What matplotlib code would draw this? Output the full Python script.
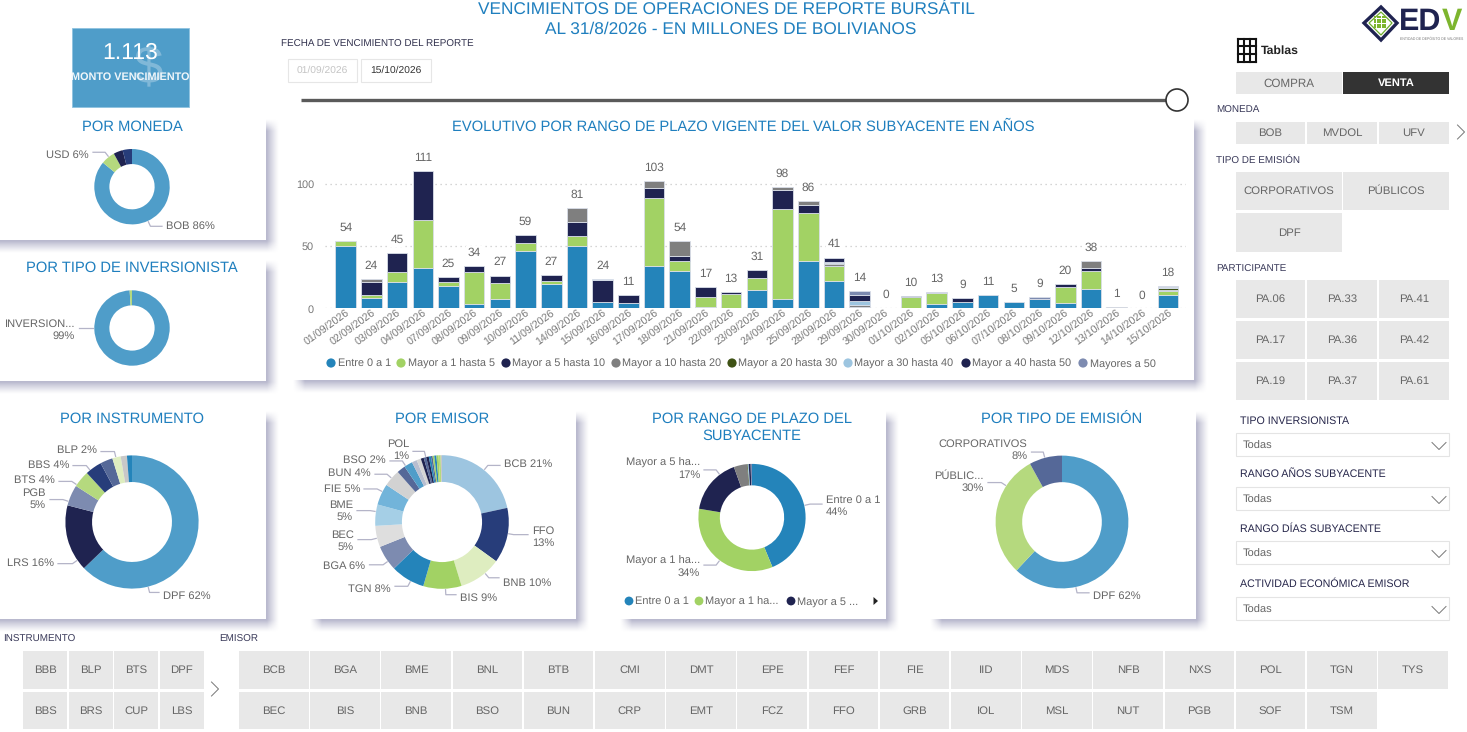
"""Reporte bursatil: dashboard de vencimientos."""

import matplotlib
matplotlib.use("Agg")
import matplotlib.pyplot as plt
import numpy as np
from matplotlib.colors import to_rgb
from matplotlib.patches import Circle, Polygon, Rectangle

plt.rcParams["font.family"] = ["Liberation Sans", "DejaVu Sans"]
plt.rcParams["text.hinting"] = "none"

W, H = 1467, 732

BLUE = "#2484BA"
GREEN = "#A2D264"
NAVY = "#1F2350"
GREY = "#7F7F7F"
OLIVE = "#3F5215"
SKY = "#9DC5E0"
SLATE = "#7D8BB0"
STEEL = "#4F9DC9"
LIME = "#B5D97E"
ROYAL = "#273D7A"
DUSK = "#556898"
TITLE = "#1F7FBE"
TEXT = "#666666"

# evolutivo
fechas = [
    "01/09/2026", "02/09/2026", "03/09/2026", "04/09/2026", "07/09/2026", "08/09/2026",
    "09/09/2026", "10/09/2026", "11/09/2026", "14/09/2026", "15/09/2026", "16/09/2026",
    "17/09/2026", "18/09/2026", "21/09/2026", "22/09/2026", "23/09/2026", "24/09/2026",
    "25/09/2026", "28/09/2026", "29/09/2026", "30/09/2026", "01/10/2026", "02/10/2026",
    "05/10/2026", "06/10/2026", "07/10/2026", "08/10/2026", "09/10/2026", "12/10/2026",
    "13/10/2026", "14/10/2026", "15/10/2026",
]
totales = [54, 24, 45, 111, 25, 34, 27, 59, 27, 81, 24, 11, 103, 54, 17, 13, 31,
           98, 86, 41, 14, 0, 10, 13, 9, 11, 5, 9, 20, 38, 1, 0, 18]
entre_0_1 = [50, 8.5, 21.5, 32.5, 18.5, 3.5, 7.5, 46.5, 20, 50, 5.5, 4.5, 34.5, 30.5, 1.5, 0, 15,
             7.5, 38.5, 22.5, 0, 0, 0, 4, 5.5, 11, 5, 7.5, 4.5, 16, 0, 0, 11]
mayor_1_5 = [4, 2, 8, 38.5, 3, 26, 13, 6.5, 2.5, 8, 0, 0, 54.5, 7.5, 8, 12, 9.5,
             72.5, 38, 11.5, 0, 0.3, 9.5, 8.5, 0, 0, 0, 0, 13, 14, 0, 0, 3]
mayor_5_10 = [0, 11, 15.5, 40, 3.5, 4.5, 6, 6, 4.5, 11.5, 17.5, 6.5, 8, 4, 7.5, 1, 6.5,
              15, 7, 0.5, 1.5, 0, 0.8, 0, 3, 0, 0, 0, 2.5, 3, 0, 0, 0]
mayor_10_20 = [0, 2.5, 0, 0, 0, 0, 0, 0, 0, 11.5, 0, 0, 6, 12, 0, 0, 0,
               3, 3, 1.5, 1, 0, 0, 0, 0, 0, 0, 0, 0, 5.5, 1, 0, 0.8]
mayor_20_30 = [0, 0, 0, 0, 0, 0, 0, 0, 0, 0, 0, 0, 0, 0, 0, 0, 0,
               0, 0, 0.5, 0.3, 0, 0, 0, 0, 0, 0, 0, 0, 0, 0, 0, 2]
mayor_30_40 = [0, 0, 0, 0, 0, 0, 0, 0, 0, 0, 1, 0, 0, 0, 0, 0, 0,
               0, 0, 1, 3.5, 0, 0, 0, 0, 0, 0, 0, 0, 0, 0, 0, 0.3]
mayor_40_50 = [0, 0, 0, 0, 0, 0, 0, 0, 0, 0, 0, 0, 0, 0, 0, 0, 0,
               0, 0, 3.5, 4.5, 0, 0, 0, 0, 0, 0, 0.5, 0, 0, 0, 0, 0]
mayores_50 = [0, 0, 0, 0, 0, 0, 0, 0, 0, 0, 0, 0, 0, 0, 0, 0, 0,
              0, 0, 0, 3, 0, 0, 0.5, 0, 0, 0, 1, 0, 0, 0, 0, 0.7]
rangos = ["Entre 0 a 1", "Mayor a 1 hasta 5", "Mayor a 5 hasta 10", "Mayor a 10 hasta 20",
          "Mayor a 20 hasta 30", "Mayor a 30 hasta 40", "Mayor a 40 hasta 50", "Mayores a 50"]
rango_colors = [BLUE, GREEN, NAVY, GREY, OLIVE, SKY, NAVY, SLATE]

# donas
moneda_vals = [86, 6, 4, 4]
moneda_colors = [STEEL, LIME, NAVY, ROYAL]
inversor_vals = [99, 1]
inversor_colors = [STEEL, LIME]
instrumento_vals = [62, 16, 5, 4, 4, 3, 2, 1.5, 1.2]
instrumento_colors = [STEEL, NAVY, SLATE, LIME, ROYAL, DUSK, "#DEEDC0", "#C8C8C8", BLUE]
emisor_vals = [21, 13, 10, 9, 8, 6, 5, 5, 5, 4, 2, 2, 1.2, 1, 0.7, 0.6, 0.6, 0.5, 0.4, 0.4, 0.5, 0.5, 0.5, 0.3]
emisor_colors = [SKY, ROYAL, "#DEEDC0", GREEN, BLUE, SLATE, "#DEDEDE", "#A5CFE6", "#72B4DA", "#D2D2D2",
                 DUSK, STEEL, "#B8BED0", "#D5D5D5", NAVY, DUSK, NAVY, BLUE, DUSK, GREEN, BLUE, GREEN,
                 LIME, "#C8C8C8"]
plazo_vals = [44, 34, 17, 4, 0.2, 0.3, 0.6, 0.4]
plazo_colors = rango_colors
emision_vals = [62, 30, 8]
emision_colors = [STEEL, LIME, DUSK]

# slicers
instrumentos = [["BBB", "BLP", "BTS", "DPF"], ["BBS", "BRS", "CUP", "LBS"]]
emisores = [["BCB", "BGA", "BME", "BNL", "BTB", "CMI", "DMT", "EPE", "FEF", "FIE", "IID", "MDS",
             "NFB", "NXS", "POL", "TGN", "TYS"],
            ["BEC", "BIS", "BNB", "BSO", "BUN", "CRP", "EMT", "FCZ", "FFO", "GRB", "IOL", "MSL",
             "NUT", "PGB", "SOF", "TSM"]]
participantes = [["PA.06", "PA.33", "PA.41"], ["PA.17", "PA.36", "PA.42"], ["PA.19", "PA.37", "PA.61"]]

fig = plt.figure(figsize=(W / 100, H / 100), dpi=100, facecolor="white")
bg = fig.add_axes([0, 0, 1, 1], zorder=0)
bg.axis("off")


def px_axes(x0, y0, x1, y1):
    ax = fig.add_axes([x0 / W, 1 - y1 / H, (x1 - x0) / W, (y1 - y0) / H], zorder=1)
    ax.patch.set_alpha(0)
    return ax


def text(x, y, s, size=8, color=TEXT, ha="left", **kw):
    bg.text(x, y + 0.8, s, fontsize=size, color=color, ha=ha, va="center", zorder=3, **kw)


def panel(x0, y0, x1, y1, shift=7, ramp=12):
    # sombra suave abajo a la derecha
    sx0, sy0, sx1, sy1 = x0 + shift, y0 + shift, x1 + shift, y1 + shift
    gx = np.arange(x0 - ramp, x1 + shift + ramp) + 0.5
    gy = np.arange(y0 - ramp, y1 + shift + ramp) + 0.5
    ax_fade = np.clip((gx - sx0) / ramp + 0.5, 0, 1) * np.clip((sx1 - gx) / ramp + 0.5, 0, 1)
    ay_fade = np.clip((gy - sy0) / ramp + 0.5, 0, 1) * np.clip((sy1 - gy) / ramp + 0.5, 0, 1)
    img = np.zeros((len(gy), len(gx), 4))
    img[..., :3] = to_rgb("#B9B9CE")
    img[..., 3] = np.outer(ay_fade, ax_fade) ** 1.2
    bg.imshow(img, extent=(gx[0] - 0.5, gx[-1] + 0.5, gy[-1] + 0.5, gy[0] - 0.5), aspect="auto",
              interpolation="nearest", zorder=1)
    bg.add_patch(Rectangle((x0, y0), x1 - x0, y1 - y0, fc="white", ec="none", zorder=2))


def button(x0, y0, x1, y1, label, fc="#E8E8E8", color=TEXT, size=8.2, **kw):
    bg.add_patch(Rectangle((x0, y0), x1 - x0, y1 - y0, fc=fc, ec="none", zorder=2))
    bg.text((x0 + x1) / 2, (y0 + y1) / 2 + 0.5, label, fontsize=size, color=color, ha="center", va="center",
            zorder=3, **kw)


def chevron(x, y, size, color="#777777", down=False):
    if down:
        pts = [(x - size, y - size / 2), (x, y + size / 2), (x + size, y - size / 2)]
    else:
        pts = [(x - size / 2, y - size), (x + size / 2, y), (x - size / 2, y + size)]
    bg.plot(*zip(*pts), color=color, lw=0.7, zorder=3)


def donut(cx, cy, r, vals, colors, labels=()):
    pad = 1.02
    ax = px_axes(cx - r * pad, cy - r * pad, cx + r * pad, cy + r * pad)
    ax.pie(vals, colors=colors, startangle=90, counterclock=False, radius=1,
           wedgeprops={"width": 0.4, "linewidth": 0})
    ax.set_xlim(-pad, pad)
    ax.set_ylim(-pad, pad)
    for angle, label, tx, ty, ha in labels:
        theta = np.deg2rad(angle)
        sx, sy = np.sin(theta), -np.cos(theta)
        knee_x, knee_y = cx + sx * (r + 6), cy + sy * (r + 6)
        end_x = tx + 4 if ha == "right" else tx - 4
        bg.plot([cx + sx * (r + 1), knee_x, end_x], [cy + sy * (r + 1), knee_y, knee_y],
                color="#B4B4C8", lw=0.9, zorder=3)
        bg.text(tx, ty + 1.2, label, fontsize=8, color=TEXT, ha=ha, va="center", zorder=3,
                linespacing=1.25, multialignment="right" if ha == "right" else "left")


# paneles
panel(-20, 118, 266, 240)
panel(-20, 259, 266, 381)
panel(292, 118, 1194, 380)
panel(-20, 410, 266, 619)
panel(309, 410, 576, 619)
panel(619, 410, 886, 619)
panel(929, 410, 1196, 619)
bg.set_xlim(0, W)
bg.set_ylim(H, 0)

for x, y, s in [(132, 126, "POR MONEDA"), (132, 267, "POR TIPO DE INVERSIONISTA"),
                (743, 126, "EVOLUTIVO POR RANGO DE PLAZO VIGENTE DEL VALOR SUBYACENTE EN AÑOS"),
                (132, 418, "POR INSTRUMENTO"), (442, 418, "POR EMISOR"),
                (752, 418, "POR RANGO DE PLAZO DEL"), (752, 435, "SUBYACENTE"),
                (1062, 418, "POR TIPO DE EMISIÓN")]:
    text(x, y, s, 10.6, TITLE, "center")

# encabezado
text(726.5, 9, "VENCIMIENTOS DE OPERACIONES DE REPORTE BURSÁTIL", 12.4, TITLE, "center")
text(731, 28.5, "AL 31/8/2026 - EN MILLONES DE BOLIVIANOS", 12.4, TITLE, "center")

# kpi
bg.add_patch(Rectangle((72, 28), 117, 79, fc=STEEL, ec="#8FC3E0", lw=0.6))
text(148, 68, "$", 38, "#80B8D8", "center")
text(130, 52, "1.113", 16.6, "white", "center")
text(130, 76.5, "MONTO VENCIMIENTO", 7.8, "#F0F6FA", "center", fontweight="bold")

# fecha
text(281, 44, "FECHA DE VENCIMIENTO DEL REPORTE", 7.1, "#33334F")
bg.add_patch(Rectangle((288, 59), 69, 23, fc="white", ec="#E6E6E6", lw=0.8))
bg.add_patch(Rectangle((361, 59), 70, 23, fc="white", ec="#E6E6E6", lw=0.8))
text(322.5, 70, "01/09/2026", 7.4, "#C4C4C4", "center")
text(396, 70, "15/10/2026", 7.4, "#333333", "center")
bg.plot([301, 1170], [100, 100], color="#5A5A5A", lw=2.4, solid_capstyle="butt")
bg.add_patch(Circle((1177, 100), 11, fc="white", ec="#333333", lw=1.2, zorder=3))

# logo
bg.add_patch(Polygon([(1381, 7), (1397, 23), (1381, 40), (1364, 23)], fc="none", ec=NAVY, lw=2.4))
bg.add_patch(Polygon([(1381, 12), (1392, 23), (1381, 35), (1369, 23)], fc="none", ec="#6FAE2E", lw=0.9))
dot_x, dot_y = np.meshgrid(np.arange(1375, 1388, 2.6), np.arange(17, 30, 2.6))
bg.scatter(dot_x.ravel(), dot_y.ravel(), s=3, color="#7DB52E", marker="s", linewidths=0)
text(1399, 21, "ED", 22, NAVY, fontweight="bold")
text(1441.5, 21, "V", 22, "#7DB52E", fontweight="bold")
text(1399.5, 38.5, "ENTIDAD DE DEPÓSITO DE VALORES", 2.55, "#777777")

# tablas
for x in np.linspace(1238, 1256, 4):
    bg.plot([x, x], [38.5, 62], color="#111111", lw=1.5)
for y in np.linspace(38.5, 62, 4):
    bg.plot([1238, 1256], [y, y], color="#111111", lw=1.5)
text(1261, 49.5, "Tablas", 8.8, "#222222", fontweight="bold")

button(1236, 72, 1342, 94, "COMPRA", size=8.4)
button(1343, 72, 1449, 94, "VENTA", fc="#333333", color="white", size=8, fontweight="bold")

label_color = "#3A3A5A"
text(1216, 110, "MONEDA", 7.1, label_color)
for (x0, x1), lab in zip([(1236, 1305), (1307, 1377), (1379, 1449)], ["BOB", "MVDOL", "UFV"]):
    button(x0, 122, x1, 144, lab)
chevron(1461, 132, 7)

text(1216, 160, "TIPO DE EMISIÓN", 7.1, label_color)
button(1236, 172, 1342, 210, "CORPORATIVOS")
button(1343, 172, 1449, 210, "PÚBLICOS")
button(1236, 213, 1342, 252, "DPF")

text(1216, 269, "PARTICIPANTE", 7.1, label_color)
for row, y0, y1 in zip(participantes, [280, 321, 362], [318, 359, 400]):
    for (x0, x1), lab in zip([(1236, 1305), (1307, 1377), (1379, 1449)], row):
        button(x0, y0, x1, y1, lab)

filtros = ["TIPO INVERSIONISTA", "RANGO AÑOS SUBYACENTE", "RANGO DÍAS SUBYACENTE", "ACTIVIDAD ECONÓMICA EMISOR"]
for lab, ty, y0 in zip(filtros, [420, 473, 528, 583], [433, 487, 541, 597]):
    text(1240, ty, lab, 7.7, "#26264A")
    bg.add_patch(Rectangle((1236, y0), 213, 23, fc="white", ec="#E4E4E4", lw=0.8))
    text(1243, y0 + 12.5, "Todas", 8, TEXT)
    chevron(1439, y0 + 13, 7, down=True)

# slicers de abajo
text(3, 639, "INSTRUMENTO", 7.1, label_color)
text(219, 639, "EMISOR", 7.1, label_color)
for row, y0, y1 in zip(instrumentos, [651, 692], [689, 729]):
    for c, lab in enumerate(row):
        button(23 + c * 45.6, y0, 67 + c * 45.6, y1, lab)
chevron(215, 689, 7)
for row, y0, y1 in zip(emisores, [651, 692], [689, 729]):
    for c, lab in enumerate(row):
        button(239 + c * 71.2, y0, 308.5 + c * 71.2, y1, lab)

# barras
ax = px_axes(325, 130, 1186, 308.5)
xs = np.arange(len(fechas))
series = [entre_0_1, mayor_1_5, mayor_5_10, mayor_10_20, mayor_20_30, mayor_30_40, mayor_40_50, mayores_50]
bottom = np.zeros(len(fechas))
for vals, color in zip(series, rango_colors):
    ax.bar(xs, vals, 0.8, bottom=bottom, color=color, edgecolor="#D9DEE8",
           linewidth=[0.6 if v > 0 else 0 for v in vals], zorder=3)
    bottom += np.array(vals)
for x, y, s in zip(xs, bottom, totales):
    ax.annotate(str(s), (x, y), xytext=(0, 9.5), textcoords="offset points", ha="center", va="center",
                fontsize=8.6, color=TEXT, zorder=4,
                bbox={"fc": "white", "ec": "none", "pad": 1.2})
ax.set_xlim(-0.805, 32.7)
ax.set_ylim(0, 143.7)
ax.set_yticks([0, 50, 100])
ax.set_xticks(xs, fechas)
ax.tick_params(length=0)
ax.tick_params(axis="y", labelsize=7.8, labelcolor="#777777", pad=8)
ax.tick_params(axis="x", labelsize=7.7, labelcolor="#777777", pad=0)
plt.setp(ax.get_xticklabels(), rotation=36, ha="right", rotation_mode="anchor")
ax.grid(axis="y", color="#C8C8C8", linestyle=(0, (1, 3)), linewidth=0.9, zorder=0)
for spine in ax.spines.values():
    spine.set_visible(False)

for x, lab, color in zip([331, 401, 506, 616, 732, 848, 966, 1083], rangos, rango_colors):
    bg.add_patch(Circle((x, 363), 4.6, fc=color, ec="none", zorder=3))
    bg.text(x + 6.5, 363.5, lab, fontsize=7.8, color=TEXT, va="center", zorder=3)

# donas: etiquetas con angulo de la guia, texto, posicion
donut(132, 186.7, 37.7, moneda_vals, moneda_colors,
      [(155, "BOB 86%", 166, 225, "left"), (322, "USD 6%", 89, 154, "right")])
donut(132, 328, 37.7, inversor_vals, inversor_colors,
      [(270, "INVERSION...\n99%", 75, 328.5, "right")])
donut(132, 522, 66.6, instrumento_vals, instrumento_colors,
      [(166, "DPF 62%", 163, 595, "left"), (235, "LRS 16%", 54, 562, "right"),
       (288, "PGB\n5%", 46, 498, "right"), (304, "BTS 4%", 55, 479, "right"),
       (321, "BBS 4%", 69, 464, "right"), (346, "BLP 2%", 97, 449, "right")])
donut(442, 522, 66.8, emisor_vals, emisor_colors,
      [(39, "BCB 21%", 504, 463, "left"), (100, "FFO\n13%", 532, 536, "left"),
       (140, "BNB 10%", 503, 582, "left"), (177, "BIS 9%", 460, 597, "left"),
       (208, "TGN 8%", 391, 588, "right"), (234, "BGA 6%", 365.5, 565, "right"),
       (256, "BEC\n5%", 354, 540, "right"), (279, "BME\n5%", 353, 510, "right"),
       (297, "FIE 5%", 360, 488, "right"), (311, "BUN 4%", 371, 472, "right"),
       (327, "BSO 2%", 386, 459, "right"), (346, "POL\n1%", 409, 449, "right")])
donut(752, 517.5, 53.6, plazo_vals, plazo_colors,
      [(77, "Entre 0 a 1\n44%", 826, 505, "left"), (217, "Mayor a 1 ha...\n34%", 700, 566, "right"),
       (323, "Mayor a 5 ha...\n17%", 700, 468, "right")])
donut(1062, 522, 66.4, emision_vals, emision_colors,
      [(168, "DPF 62%", 1093, 595, "left"), (303, "PÚBLIC...\n30%", 984, 481, "right"),
       (345, "CORPORATIVOS\n8%", 1027.5, 449, "right")])

for x, lab, color in zip([629, 699, 791], ["Entre 0 a 1", "Mayor a 1 ha...", "Mayor a 5 ..."], plazo_colors):
    bg.add_patch(Circle((x, 601), 4.4, fc=color, ec="none", zorder=3))
    bg.text(x + 6, 601.5, lab, fontsize=7.9, color=TEXT, va="center", zorder=3)
bg.add_patch(Polygon([(873.5, 597), (878, 601), (873.5, 605)], fc="#222222", ec="none", zorder=3))

fig.savefig("out.png", dpi=100)
